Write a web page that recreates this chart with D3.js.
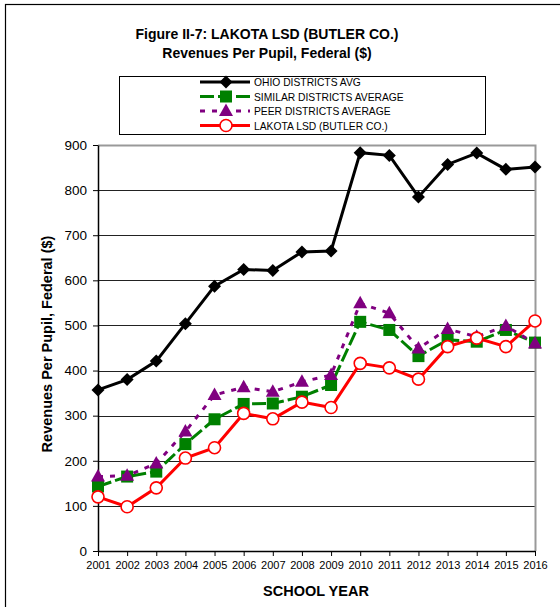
<!DOCTYPE html>
<html>
<head>
<meta charset="utf-8">
<script src="https://cdn.jsdelivr.net/npm/d3@7"></script>
<style>
  body { margin: 0; background: #fff; }
  text { font-family: "Liberation Sans", Arial, sans-serif; }
</style>
</head>
<body>
<div id="chart"></div>
<script>
const years = [2001, 2002, 2003, 2004, 2005, 2006, 2007, 2008, 2009, 2010, 2011, 2012, 2013, 2014, 2015, 2016];
const ohioAvg = [357, 380, 421, 504, 587, 624, 622, 663, 665, 883, 877, 785, 857, 882, 846, 851];
const similarAvg = [143, 165, 176, 237, 292, 326, 327, 342, 368, 508, 490, 432, 468, 464, 490, 462];
const peerAvg = [165, 167, 194, 265, 346, 363, 353, 375, 390, 549, 527, 449, 492, 475, 499, 460];
const lakota = [120, 98, 140, 206, 229, 305, 293, 330, 318, 416, 406, 381, 453, 472, 453, 510];
const yTicks = [0, 100, 200, 300, 400, 500, 600, 700, 800, 900];

const width = 560, height = 607;
const margin = { left: 98, right: 25, top: 145, bottom: 56 };

const svg = d3.select('#chart').append('svg')
  .attr('width', width)
  .attr('height', height);

// outer frame
svg.append('rect')
  .attr('x', 5.5).attr('y', 4.5)
  .attr('width', width + 10).attr('height', height + 10)
  .attr('fill', 'none').attr('stroke', '#000').attr('stroke-width', 1.2);

let x = d3.scalePoint()
  .domain(years)
  .range([margin.left, width - margin.right]);

let y = d3.scaleLinear()
  .domain([0, 900])
  .range([height - margin.bottom, margin.top]);

// gridlines
svg.append('g')
  .selectAll('line')
  .data(yTicks.filter(d => d > 0 && d < 900))
  .enter().append('line')
  .attr('x1', margin.left).attr('x2', width - margin.right)
  .attr('y1', d => Math.round(y(d)) + 0.5).attr('y2', d => Math.round(y(d)) + 0.5)
  .attr('stroke', '#222').attr('stroke-width', 1);

// plot border top / right (gray)
svg.append('path')
  .attr('d', `M${margin.left},${y(900) + 0.5}H${width - margin.right + 0.5}V${y(0)}`)
  .attr('fill', 'none').attr('stroke', '#999').attr('stroke-width', 2);

// axes
let yAxis = svg.append('g')
  .attr('transform', `translate(${margin.left},0)`)
  .call(d3.axisLeft(y).tickValues(yTicks).tickSize(5).tickPadding(6).tickSizeOuter(0));
yAxis.selectAll('text').attr('font-size', 13.5).attr('fill', '#000');

let xAxis = svg.append('g')
  .attr('transform', `translate(0,${y(0)})`)
  .call(d3.axisBottom(x).tickSize(5).tickPadding(5).tickSizeOuter(0).tickFormat(d3.format('d')));
xAxis.selectAll('text').attr('font-size', 11).attr('fill', '#000');

svg.selectAll('.domain').attr('stroke', '#000').attr('stroke-width', 1.5);
svg.selectAll('.tick line').attr('stroke', '#000');

// titles
svg.append('text')
  .attr('x', 267).attr('y', 39)
  .attr('text-anchor', 'middle')
  .attr('font-size', 14).attr('font-weight', 'bold')
  .text('Figure II-7: LAKOTA LSD (BUTLER CO.)');
svg.append('text')
  .attr('x', 267).attr('y', 58)
  .attr('text-anchor', 'middle')
  .attr('font-size', 14).attr('font-weight', 'bold')
  .text('Revenues Per Pupil, Federal ($)');

svg.append('text')
  .attr('transform', `translate(52,344) rotate(-90)`)
  .attr('text-anchor', 'middle')
  .attr('font-size', 14.5).attr('font-weight', 'bold')
  .text('Revenues Per Pupil, Federal ($)');

svg.append('text')
  .attr('x', 316).attr('y', 596)
  .attr('text-anchor', 'middle')
  .attr('font-size', 14.5).attr('font-weight', 'bold')
  .text('SCHOOL YEAR');

// series
const series = [
  { name: 'OHIO DISTRICTS AVG', values: ohioAvg, color: '#000', dash: null, marker: 'diamond' },
  { name: 'SIMILAR DISTRICTS AVERAGE', values: similarAvg, color: '#008000', dash: '14,4', marker: 'square' },
  { name: 'PEER DISTRICTS AVERAGE', values: peerAvg, color: '#800080', dash: '5,7', marker: 'triangle' },
  { name: 'LAKOTA LSD (BUTLER CO.)', values: lakota, color: '#ff0000', dash: null, marker: 'circle' }
];

function drawMarker(g, s, cx, cy) {
  if (s.marker === 'diamond') {
    g.append('path')
      .attr('d', `M${cx},${cy - 6.5}L${cx + 6.5},${cy}L${cx},${cy + 6.5}L${cx - 6.5},${cy}Z`)
      .attr('fill', s.color);
  } else if (s.marker === 'square') {
    g.append('rect')
      .attr('x', cx - 6).attr('y', cy - 6).attr('width', 12).attr('height', 12)
      .attr('fill', s.color);
  } else if (s.marker === 'triangle') {
    g.append('path')
      .attr('d', `M${cx},${cy - 7.5}L${cx + 7},${cy + 5}L${cx - 7},${cy + 5}Z`)
      .attr('fill', s.color);
  } else {
    g.append('circle')
      .attr('cx', cx).attr('cy', cy).attr('r', 6)
      .attr('fill', '#fff').attr('stroke', s.color).attr('stroke-width', 1.6);
  }
}

let line = d3.line()
  .x((d, i) => x(years[i]))
  .y(d => y(d));

series.forEach(function (s) {
  let g = svg.append('g');
  g.append('path')
    .datum(s.values)
    .attr('d', line)
    .attr('fill', 'none')
    .attr('stroke', s.color)
    .attr('stroke-width', 3)
    .attr('stroke-dasharray', s.dash);
  s.values.forEach(function (v, i) {
    drawMarker(g, s, x(years[i]), y(v));
  });
});

// legend
let legend = svg.append('g');
legend.append('rect')
  .attr('x', 119.5).attr('y', 76.5).attr('width', 366).attr('height', 58)
  .attr('fill', '#fff').attr('stroke', '#000').attr('stroke-width', 1);

series.forEach(function (s, i) {
  let ly = 82 + i * 14.5;
  let lg = legend.append('g');
  lg.append('line')
    .attr('x1', 200).attr('x2', 250).attr('y1', ly).attr('y2', ly)
    .attr('stroke', s.color).attr('stroke-width', 3)
    .attr('stroke-dasharray', s.dash);
  drawMarker(lg, s, 226, ly);
  lg.append('text')
    .attr('x', 254).attr('y', ly + 4)
    .attr('font-size', 10.3)
    .text(s.name);
});
</script>
</body>
</html>
